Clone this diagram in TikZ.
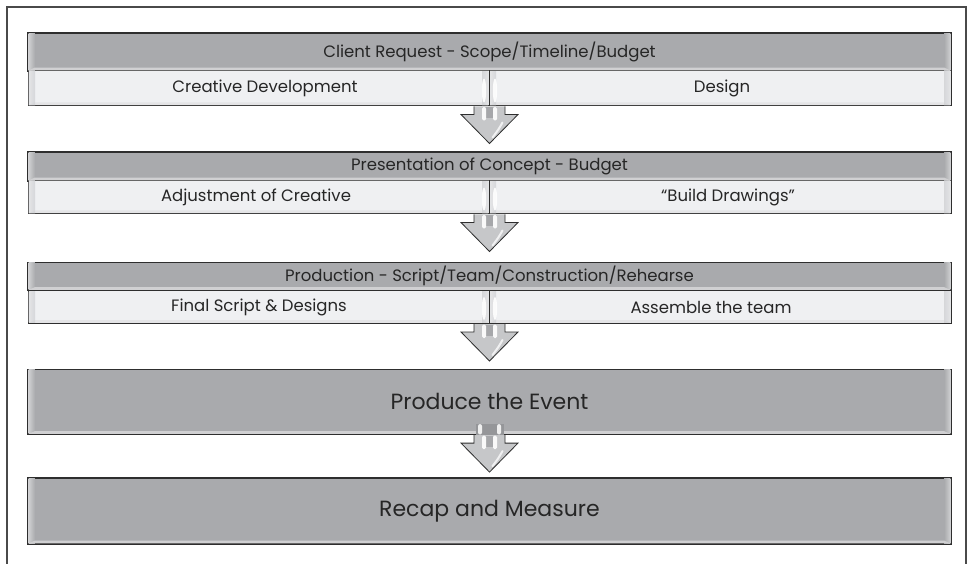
\documentclass[tikz,border=0pt]{standalone}
\usepackage{fontspec}
\setmainfont{Poppins}
\usetikzlibrary{calc}

\definecolor{hdr}{HTML}{A9AAAD}
\definecolor{cell}{HTML}{EFF0F2}
\definecolor{edge}{HTML}{2E2E2E}
\definecolor{frameline}{HTML}{4A4A4A}
\definecolor{arrowfill}{HTML}{C6C7C9}
\definecolor{stemdark}{HTML}{A6A7AA}

% bevel highlights inside a box: light strips on the left, right and bottom
\newcommand\bevelbox[2]{%
  \begin{scope}[opacity=#2]
    \shade[left color=hdr!55!white, middle color=white, right color=hdr]
      ($(#1.north west)+(1.2,1.2)$) rectangle ($(#1.south west)+(7.5,-1.2)$);
    \shade[left color=hdr, middle color=white, right color=hdr!55!white]
      ($(#1.north east)+(-7.5,1.2)$) rectangle ($(#1.south east)+(-1.2,-1.2)$);
    \fill[hdr!55!white]
      ($(#1.south west)+(7.5,-4)$) -- ($(#1.south east)+(-7.5,-4)$)
      -- ($(#1.south east)+(-1.2,-1.2)$) -- ($(#1.south west)+(1.2,-1.2)$) -- cycle;
  \end{scope}}

% block arrow hanging below the point #1 (bottom edge of a box, on the axis)
\newcommand\flowarrow[1]{%
  \path[arrowbody]
    ($(#1)+(-15.5,0)$) -- ($(#1)+(-15.5,8)$) -- ($(#1)+(-28.5,8)$)
    -- ($(#1)+(0,37)$)
    -- ($(#1)+(28.5,8)$) -- ($(#1)+(15.5,8)$) -- ($(#1)+(15.5,0)$);
  \fill[stemdark] ($(#1)+(-3.5,0.6)$) rectangle ($(#1)+(3.5,12)$);
  \fill[white, opacity=.9, rounded corners=1.5pt]
    ($(#1)+(-7.5,0.6)$) rectangle ($(#1)+(-3.5,14)$);
  \fill[white, opacity=.9, rounded corners=1.5pt]
    ($(#1)+(3.5,0.6)$) rectangle ($(#1)+(7.5,14)$);
  \draw[white, line width=2pt, opacity=.75, line cap=round]
    ($(#1)+(13,16)$) .. controls ($(#1)+(9,23)$) .. ($(#1)+(3,31)$);}

% the stem of an arrow seen through a cell row above it
\newcommand\stemlens[2]{%
  \fill[white, opacity=.9] ($(#1)+(-5.5,-#2)$) ellipse (2.2 and #2-4);
  \fill[white, opacity=.9] ($(#1)+(5.5,-#2)$) ellipse (2.2 and #2-4);}

\tikzset{
  hdrbox/.style={draw=edge, line width=1.1pt, fill=hdr, minimum width=923pt,
    inner sep=0pt, text=black!85, font=\fontsize{16.5}{19}\selectfont},
  cellbox/.style={draw=edge, line width=1pt, fill=cell, inner sep=0pt,
    text=black!85, font=\fontsize{16.5}{19}\selectfont},
  bigbox/.style={hdrbox, font=\fontsize{22}{26}\selectfont},
  arrowbody/.style={fill=arrowfill, draw=edge, line width=0.8pt, line join=miter},
}

\begin{document}
\begin{tikzpicture}[x=1pt, y=-1pt]
\useasboundingbox (0,0) rectangle (969,564);
\fill[white] (0,0) rectangle (969,564);

% outer frame, open at the foot of the page
\draw[frameline, line width=1.6pt] (7,566) -- (7,7) -- (966,7) -- (966,566);

% stage 1
\node[hdrbox, minimum height=38pt] (h1) at (489.5,52) {Client Request - Scope/Timeline/Budget};
\node[cellbox, minimum width=461pt, minimum height=35pt] (l1) at (258.5,88.5) {};
\node[cellbox, minimum width=462pt, minimum height=35pt] (r1) at (720,88.5) {};
\bevelbox{h1}{1}
\bevelbox{l1}{.35}
\bevelbox{r1}{.35}
\node[cellbox, draw=none, fill=none] (t1l) at (265,88.5) {Creative Development};
\node[cellbox, draw=none, fill=none] (t1r) at (722,88.5) {Design};

% stage 2
\node[hdrbox, minimum height=29pt] (h2) at (489.5,166.5) {Presentation of Concept - Budget};
\node[cellbox, minimum width=461pt, minimum height=33pt] (l2) at (258.5,197.5) {};
\node[cellbox, minimum width=462pt, minimum height=33pt] (r2) at (720,197.5) {};
\bevelbox{h2}{1}
\bevelbox{l2}{.35}
\bevelbox{r2}{.35}
\node[cellbox, draw=none, fill=none] (t2l) at (256,197.5) {Adjustment of Creative};
\node[cellbox, draw=none, fill=none] (t2r) at (728,197.5) {“Build Drawings”};

% stage 3
\node[hdrbox, minimum height=28.5pt] (h3) at (489.5,276.3) {Production - Script/Team/Construction/Rehearse};
\node[cellbox, minimum width=461pt, minimum height=33pt] (l3) at (258.5,307) {};
\node[cellbox, minimum width=462pt, minimum height=33pt] (r3) at (720,307) {};
\bevelbox{h3}{1}
\bevelbox{l3}{.35}
\bevelbox{r3}{.35}
\node[cellbox, draw=none, fill=none] (t3l) at (259,307) {Final Script \& Designs};
\node[cellbox, draw=none, fill=none] (t3r) at (711,307) {Assemble the team};

% stages 4 and 5
\node[bigbox, minimum height=65.5pt] (h4) at (489.5,401.8) {Produce the Event};
\node[bigbox, minimum height=66pt] (h5) at (489.5,511) {Recap and Measure};
\bevelbox{h4}{1}
\bevelbox{h5}{1}

% arrow anchors on the lower edge of each stage
\coordinate (d1) at (l1.south east);
\coordinate (d2) at (l2.south east);
\coordinate (d3) at (l3.south east);
\coordinate (d4) at (h4.south);

\stemlens{d1}{16}
\stemlens{d2}{15.5}
\stemlens{d3}{15.5}
\draw[edge, line width=1pt] (l1.north east) -- (l1.south east);
\draw[edge, line width=1pt] (l2.north east) -- (l2.south east);
\draw[edge, line width=1pt] (l3.north east) -- (l3.south east);

% stem of the last arrow showing inside the fourth box
\fill[stemdark!90!black] ($(d4)+(-14,-11)$) rectangle ($(d4)+(14,-0.6)$);
\fill[white, opacity=.85, rounded corners=2pt] ($(d4)+(-11.5,-11)$) rectangle ($(d4)+(-7.5,-0.6)$);
\fill[white, opacity=.85, rounded corners=2pt] ($(d4)+(7.5,-11)$) rectangle ($(d4)+(11.5,-0.6)$);

\flowarrow{d1}
\flowarrow{d2}
\flowarrow{d3}
\flowarrow{d4}
\end{tikzpicture}
\end{document}
